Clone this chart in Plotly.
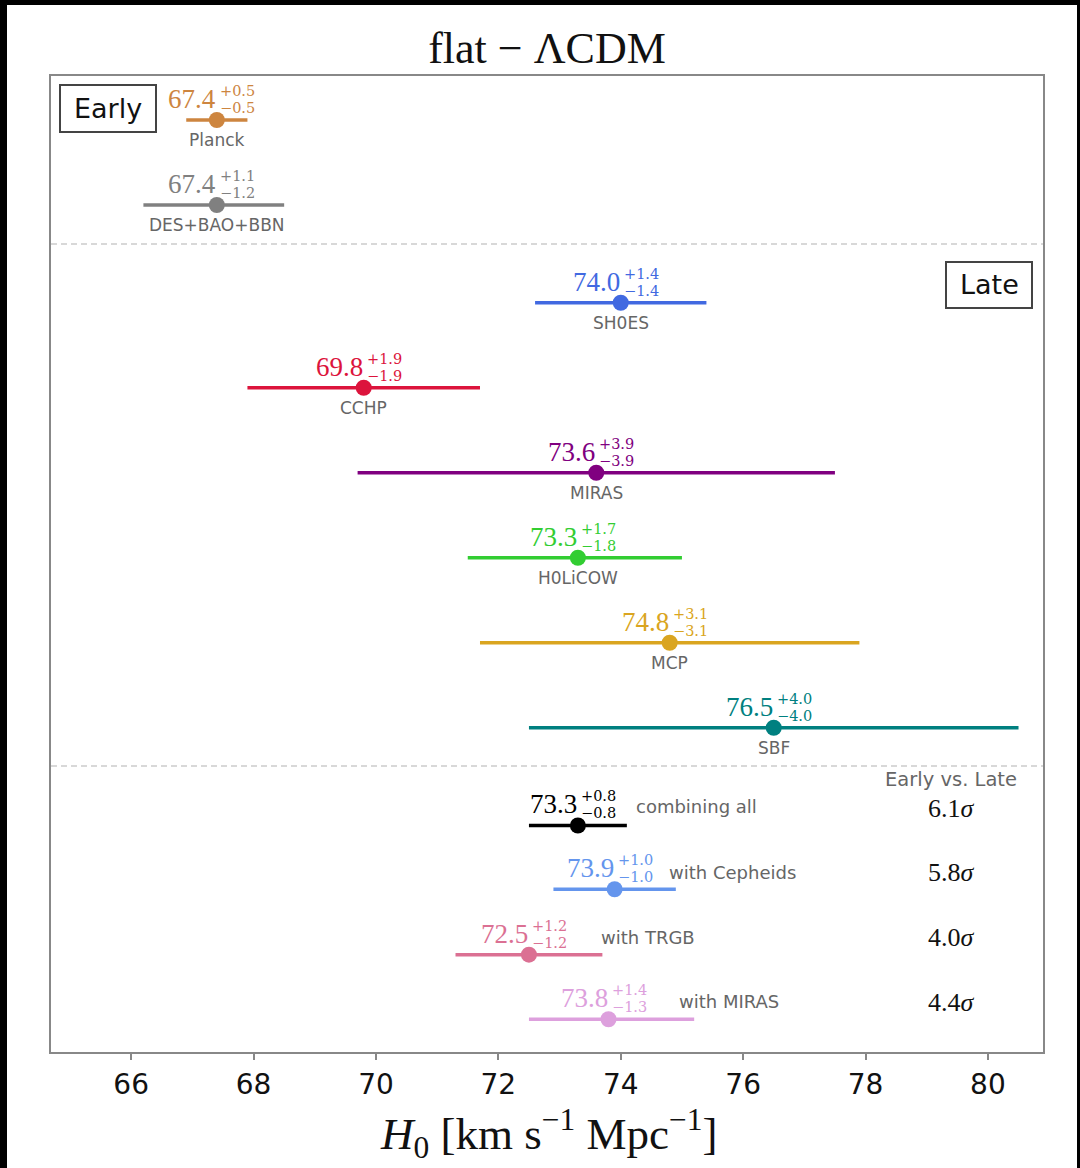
import plotly.graph_objects as go

# ---------------- data ----------------
names = ["Planck", "DES+BAO+BBN", "SH0ES", "CCHP", "MIRAS", "H0LiCOW", "MCP", "SBF",
         "combining all", "with Cepheids", "with TRGB", "with MIRAS"]
h0_values = [67.4, 67.4, 74.0, 69.8, 73.6, 73.3, 74.8, 76.5, 73.3, 73.9, 72.5, 73.8]
err_plus = [0.5, 1.1, 1.4, 1.9, 3.9, 1.7, 3.1, 4.0, 0.8, 1.0, 1.2, 1.4]
err_minus = [0.5, 1.2, 1.4, 1.9, 3.9, 1.8, 3.1, 4.0, 0.8, 1.0, 1.2, 1.3]
groups = ["early", "early", "late", "late", "late", "late", "late", "late",
          "comb", "comb", "comb", "comb"]
row_pos = [0, 1, 2.15, 3.15, 4.15, 5.15, 6.15, 7.15, 8.3, 9.05, 9.82, 10.58]
tension_sigma = [6.1, 5.8, 4.0, 4.4]
x_ticks = [66, 68, 70, 72, 74, 76, 78, 80]

# ---------------- styles ----------------
colors = ["#CD853F", "#808080", "#4169E1", "#DC143C", "#800080", "#32CD32",
          "#DAA520", "#008080", "#000000", "#6495ED", "#DB7093", "#DDA0DD"]
comb_name_shift = [56, 52, 70, 68]   # px offset of the name text for combined rows
comb_name_yshift = [19, 17, 17, 18]

SERIF = "Liberation Serif"
SERIF_S = "DejaVu Serif"
SANS = "DejaVu Sans"
GRAY_TXT = "#666666"

W, H = 1080, 1168
L, R, T, B = 51, 37, 76, 116
PW, PH = W - L - R, H - T - B

fig = go.Figure()

for i in range(len(names)):
    fig.add_trace(go.Scatter(
        x=[h0_values[i]], y=[row_pos[i]], mode="markers",
        marker=dict(color=colors[i], size=16, line=dict(width=0)),
        error_x=dict(type="data", symmetric=False, array=[err_plus[i]],
                     arrayminus=[err_minus[i]], width=0, thickness=3.5,
                     color=colors[i]),
        showlegend=False, hoverinfo="skip"))

ann = []
for i in range(len(names)):
    c = colors[i]
    x, y = h0_values[i], row_pos[i]
    ann.append(dict(x=x, y=y, xref="x", yref="y", text=f"{h0_values[i]:.1f}",
                    showarrow=False, xanchor="right", yanchor="middle", yshift=21,
                    xshift=1, font=dict(family=SERIF, size=27, color=c)))
    ann.append(dict(x=x, y=y, xref="x", yref="y", text=f"+{err_plus[i]:.1f}",
                    showarrow=False, xanchor="left", yanchor="middle", yshift=29,
                    xshift=1, font=dict(family=SERIF_S, size=14.5, color=c)))
    ann.append(dict(x=x, y=y, xref="x", yref="y", text=f"\u2212{err_minus[i]:.1f}",
                    showarrow=False, xanchor="left", yanchor="middle", yshift=12,
                    xshift=1, font=dict(family=SERIF_S, size=14.5, color=c)))
    if groups[i] != "comb":
        ann.append(dict(x=x, y=y, xref="x", yref="y", text=names[i],
                        showarrow=False, xanchor="center", yanchor="middle",
                        yshift=-20, font=dict(family=SANS, size=17, color=GRAY_TXT)))

comb_idx = [i for i in range(len(names)) if groups[i] == "comb"]
for k, i in enumerate(comb_idx):
    ann.append(dict(x=h0_values[i], y=row_pos[i], xref="x", yref="y", text=names[i],
                    showarrow=False, xanchor="left", yanchor="middle",
                    xshift=comb_name_shift[k], yshift=comb_name_yshift[k],
                    font=dict(family=SANS, size=18, color=GRAY_TXT)))
    ann.append(dict(x=(951 - L) / PW, y=row_pos[i], xref="paper", yref="y",
                    text=f"{tension_sigma[k]:.1f}<i>\u03c3</i>",
                    showarrow=False, xanchor="center", yanchor="middle", yshift=17,
                    font=dict(family=SERIF, size=26, color="#111111")))

ann.append(dict(x=(951 - L) / PW, y=(PH + T - 779) / PH, xref="paper", yref="paper",
                text="Early vs. Late", showarrow=False, xanchor="center",
                yanchor="middle", font=dict(family=SANS, size=19.5, color=GRAY_TXT)))
ann.append(dict(x=(108 - L) / PW, y=(PH + T - 108) / PH, xref="paper", yref="paper",
                text="Early", showarrow=False, xanchor="center", yanchor="middle",
                font=dict(family=SANS, size=27, color="#111111")))
ann.append(dict(x=(989 - L) / PW, y=(PH + T - 284) / PH, xref="paper", yref="paper",
                text="Late", showarrow=False, xanchor="center", yanchor="middle",
                font=dict(family=SANS, size=27, color="#111111")))
ann.append(dict(x=(549 - L) / PW, y=(PH + T - 1133) / PH, xref="paper", yref="paper",
                text="<i>H</i><sub>0</sub> [km s<sup>\u22121</sup> Mpc<sup>\u22121</sup>]",
                showarrow=False, xanchor="center", yanchor="middle",
                font=dict(family=SERIF, size=45, color="#111111")))


def px_x(p):
    return (p - L) / PW


def px_y(p):
    return (PH + T - p) / PH


shapes = [
    # white page inside the black border
    dict(type="rect", xref="paper", yref="paper", x0=px_x(7), x1=px_x(1077),
         y0=px_y(H + 5), y1=px_y(5), fillcolor="white", line=dict(width=0),
         layer="below"),
    dict(type="line", xref="paper", yref="y", x0=0, x1=1, y0=1.459, y1=1.459,
         line=dict(color="#cccccc", width=1.5, dash="6px,4px")),
    dict(type="line", xref="paper", yref="y", x0=0, x1=1, y0=7.6, y1=7.6,
         line=dict(color="#cccccc", width=1.5, dash="6px,4px")),
    dict(type="rect", xref="paper", yref="paper", x0=px_x(60), x1=px_x(156),
         y0=px_y(132), y1=px_y(85), line=dict(color="#444444", width=2)),
    dict(type="rect", xref="paper", yref="paper", x0=px_x(946), x1=px_x(1032),
         y0=px_y(308), y1=px_y(262), line=dict(color="#444444", width=2)),
]

fig.update_layout(
    width=W, height=H,
    margin=dict(l=L, r=R, t=T, b=B, pad=0),
    paper_bgcolor="black", plot_bgcolor="white",
    title=dict(text="flat \u2212 \u039bCDM", x=(547) / W, xanchor="center",
               y=1 - 48 / H, yanchor="middle", yref="container",
               font=dict(family=SERIF, size=44, color="#111111")),
    xaxis=dict(range=[64.69, 80.9], tickvals=x_ticks, ticks="outside", ticklen=6,
               tickwidth=1.5, tickcolor="#888888", showgrid=False, zeroline=False,
               showline=True, linecolor="#888888", linewidth=2, mirror=True,
               tickfont=dict(family=SANS, size=28, color="#111111")),
    yaxis=dict(range=[10.965, -0.518], showticklabels=False, ticks="", showgrid=False,
               zeroline=False, showline=True, linecolor="#888888", linewidth=2,
               mirror=True),
    annotations=ann, shapes=shapes,
)

fig.write_html("out.html")
